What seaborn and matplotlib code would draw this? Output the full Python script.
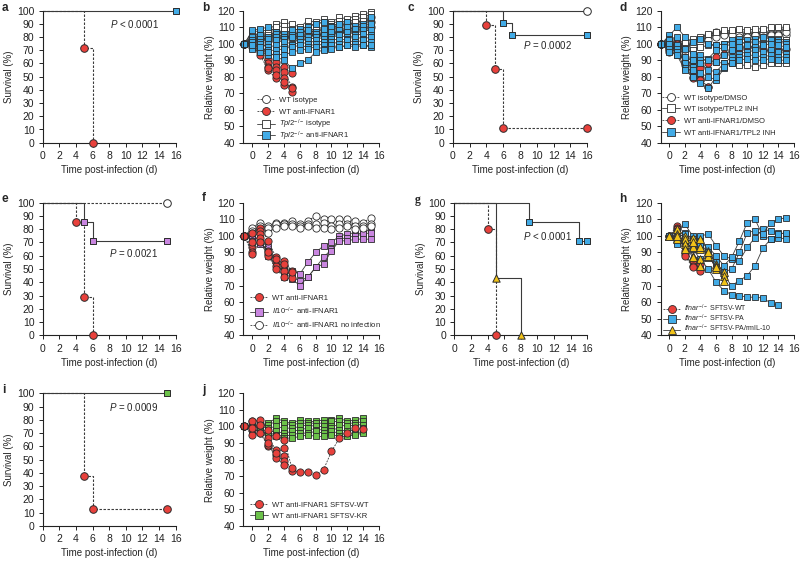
import numpy as np
import pandas as pd
import matplotlib
matplotlib.use('Agg')
import matplotlib.pyplot as plt
from matplotlib.lines import Line2D
import seaborn as sns

sns.set_theme(style='ticks')
plt.rcParams['font.family'] = ['Liberation Sans', 'DejaVu Sans']
plt.rcParams['mathtext.fontset'] = 'custom'
plt.rcParams['mathtext.rm'] = 'Liberation Sans'
plt.rcParams['mathtext.it'] = 'Liberation Sans:italic'
plt.rcParams['mathtext.bf'] = 'Liberation Sans:bold'
plt.rcParams['axes.linewidth'] = 0.8
plt.rcParams['axes.edgecolor'] = '#222222'
for a in ('xtick', 'ytick'):
    plt.rcParams[f'{a}.major.size'] = 3
    plt.rcParams[f'{a}.major.width'] = 0.7
    plt.rcParams[f'{a}.major.pad'] = 3
    plt.rcParams[f'{a}.color'] = '#222222'
    plt.rcParams[f'{a}.labelsize'] = 7.5

RED = '#e8413c'
BLUE = '#42abe6'
PURPLE = '#c986e0'
YELLOW = '#f2c318'
GREEN = '#6cc24a'
WHITE = '#ffffff'
EDGE = '#2b2b2b'
LINE = '#3a3a3a'
DASH = (0, (2.2, 1.4))

# ---------------- survival data ----------------
a_red_t = [0, 5, 6];          a_red_s = [100, 71.4, 0]
a_blue_t = [0, 16];           a_blue_s = [100, 100]

c_open_t = [0, 16];           c_open_s = [100, 100]
c_red_t = [0, 4, 5, 6, 16];   c_red_s = [100, 88.9, 55.6, 11.1, 11.1]
c_blue_t = [0, 6, 7, 16];     c_blue_s = [100, 90.9, 81.8, 81.8]

e_open_t = [0, 15];           e_open_s = [100, 100]
e_purple_t = [0, 5, 6, 15];   e_purple_s = [100, 85.7, 71.4, 71.4]
e_red_t = [0, 4, 5, 6];       e_red_s = [100, 85.7, 28.6, 0]

g_red_t = [0, 4, 5];          g_red_s = [100, 80, 0]
g_yellow_t = [0, 5, 8];       g_yellow_s = [100, 42.9, 0]
g_blue_t = [0, 9, 15, 16];    g_blue_s = [100, 85.7, 71.4, 71.4]

i_red_t = [0, 5, 6, 15];      i_red_s = [100, 37.5, 12.5, 12.5]
i_green_t = [0, 15];          i_green_s = [100, 100]

p_texts = {'a': 'P < 0.0001', 'c': 'P = 0.0002', 'e': 'P = 0.0021',
           'g': 'P < 0.0001', 'i': 'P = 0.0009'}

# ---------------- weight data ----------------
days_b = list(range(-1, 16))
b_wt_iso = [
    [100, 104, 106, 105, 107, 107, 106, 107, 108, 107, 109, 110, 111, 112, 113, 114, 116],
    [100, 102, 104, 103, 105, 104, 105, 104, 106, 105, 106, 107, 108, 108, 110, 111, 113],
    [100, 101, 103, 102, 104, 103, 104, 103, 105, 106, 105, 106, 107, 107, 108, 109, 110],
]
b_wt_anti = [
    [100, 102, 99, 91, 89, 86, 82],
    [100, 100, 97, 88, 86, 83, 74],
    [100, 99, 95, 86, 84, 79, 71],
    [100, 98, 93, 84, 79, 75],
    [100, 101, 96, 85, 81, 77, 73],
]
b_tpl2_iso = [
    [100, 107, 108, 108, 112, 113, 112, 110, 114, 113, 115, 113, 116, 115, 117, 118, 119],
    [100, 105, 106, 107, 110, 111, 109, 108, 111, 112, 113, 112, 114, 113, 115, 116, 118],
    [100, 103, 104, 105, 107, 108, 107, 106, 108, 109, 110, 111, 112, 111, 113, 114, 115],
]
b_tpl2_anti = [
    [100, 108, 109, 110, 107, 106, 108, 109, 110, 112, 113, 111, 112, 113, 111, 112, 116],
    [100, 104, 105, 104, 106, 104, 105, 107, 108, 107, 109, 110, 108, 110, 109, 111, 112],
    [100, 102, 103, 103, 104, 103, 104, 105, 104, 106, 105, 107, 106, 107, 106, 108, 108],
    [100, 101, 101, 100, 102, 101, 100, 103, 102, 104, 103, 104, 105, 104, 105, 106, 105],
    [100, 99, 100, 98, 99, 98, 99, 101, 100, 102, 101, 103, 102, 103, 104, 103, 104],
    [100, 98, 97, 96, 96, 97, 98, 99, 98, 100, 99, 101, 100, 102, 101, 102, 101],
    [100, 97, 95, 93, 94, 93, 95, 96, 97, 98, 97, 99, 98, 99, 100, 99, 98],
    [100, 99, 98, 95, 92, 90, 85, 88, 90, 95, 96, 97, 98, 99, 98, 99, 99],
]

days_d = list(range(-1, 16))
d_iso_dmso = [
    [100, 102, 100, 99, 101, 103, 105, 107, 107, 107, 107, 106, 107, 107, 107, 108, 109],
    [100, 101, 98, 98, 100, 102, 104, 106, 106, 106, 106, 105, 106, 106, 106, 106, 105],
    [100, 99, 97, 97, 99, 101, 102, 104, 105, 105, 104, 104, 105, 104, 105, 105, 107],
]
d_iso_inh = [
    [100, 104, 102, 101, 103, 104, 106, 107, 108, 108, 109, 108, 109, 109, 110, 110, 110],
    [100, 98, 96, 95, 96, 98, 99, 99, 100, 101, 100, 101, 102, 101, 102, 103, 102],
    [100, 96, 93, 91, 90, 91, 90, 89, 88, 88, 87, 87, 86, 87, 88, 88, 88],
]
d_anti_dmso = [
    [100, 97, 101, 92, 86, 85, 88, 92, 94, 96, 97, 98, 98, 97, 95.5, 96, 96.5],
    [100, 95, 99, 87, 82, 78, 74],
    [100, 96, 98, 89, 80, 79],
    [100, 98, 100, 88, 79, 78, 73.5],
]
d_anti_inh = [
    [100, 105, 110, 104, 101, 103, 100, 99, 100, 102, 103, 102, 103, 104, 103, 102, 101],
    [100, 103, 104, 97, 94, 93, 91, 96, 98, 100, 101, 100, 101, 100, 102, 101, 100],
    [100, 102, 99, 92, 90, 90, 90, 89, 93, 96, 98, 99, 98, 99, 100, 99, 98],
    [100, 100, 97, 88, 86, 88, 84, 83, 88, 92, 94, 95, 96, 95, 96, 95, 94],
    [100, 97, 95, 85, 84, 82, 80, 78, 85, 90, 92, 93, 93, 92, 93, 92, 92],
    [100, 95, 93, 84, 80, 76, 73, 80, 86, 88, 90, 91, 90, 90, 91, 90, 90],
]

days_f = list(range(-1, 16))
f_wt_anti = [
    [100, 102, 105, 97, 87, 85, 79],
    [100, 93, 103, 91, 84, 82, 74.5],
    [100, 90, 101, 89, 82, 79],
    [100, 89, 99, 88, 80, 75],
    [100, 96, 96, 90, 86, 83, 78],
]
f_il10_anti = [
    [100, 103, 99, 93, 86, 80, 79, 77, 84, 90, 94, 96, 100, 101, 102, 101, 105],
    [100, 100, 97, 90, 84, 77, 75, 73, 75, 81, 87, 92, 98, 99, 100, 101, 102],
    [100, 98, 96, 88, 82, 75, 74, 70, 75, 81, 83, 91, 97, 97, 98, 98, 98],
    [100, 97, 95, 91, 85, 76, 78],
]
f_il10_noinf = [
    [100, 105, 108, 106, 108, 108, 109, 107, 109, 112, 110, 110, 110, 110, 109, 108, 111],
    [100, 103, 106, 105, 107, 107, 107, 106, 107, 107, 108, 106, 107, 107, 106, 106, 107],
    [100, 102, 104, 102, 105, 106, 106, 105, 106, 105, 105, 104, 105, 106, 104, 105, 106],
]

days_h = list(range(0, 16))
h_wt = [
    [100, 106, 91, 85, 83],
    [100, 105, 89, 82, 80],
    [100, 104, 88, 81, 79],
]
h_pa = [
    [100, 97, 96, 92, 86, 80, 72, 67, 64.5, 64, 63, 63, 62.5, 59.5, 58],
    [100, 103, 107, 100, 100, 101, 94, 88, 86, 85, 93, 99, 104, 103, 102, 101],
    [100, 98, 102, 98, 97, 93, 88, 82, 87, 97, 108, 110, 100, 98, 99, 98],
    [100, 95, 99, 96, 93, 88, 81, 76, 70, 73, 76, 82, 92.5, 98, 101, 102],
    [100, 99, 101, 97, 95, 90, 84, 78, 80, 90, 102, 103, 101, 108, 110, 111],
]
h_pa_il10 = [
    [100, 104, 100, 99, 98, 91, 83, 78],
    [100, 101, 96, 93, 92, 89, 80, 76],
    [100, 99, 98, 88, 86, 87, 82, 73],
    [100, 98, 95, 87, 82, 88, 81],
    [100, 100, 92, 96, 93, 90],
]

days_j = list(range(-1, 15))
j_wt = [
    [100, 98, 101, 93, 86, 82, 73, 72.5, 72.5, 70.5, 74, 85, 93, 96, 99, 98.5],
    [100, 103, 104, 98, 94, 92, 75],
    [100, 95, 96, 88, 83, 79],
    [100, 103, 96, 89, 81, 77],
    [100, 99, 101, 90, 84, 87],
]
j_kr = [
    [100, 101, 102, 102, 105, 103, 102, 104, 103, 103, 104, 104, 105, 103, 104, 105],
    [100, 100, 101, 101, 103, 102, 101, 102, 102, 102, 102, 103, 103, 102, 102, 103],
    [100, 99, 100, 99, 100, 99, 99, 100, 101, 100, 100, 100, 101, 100, 101, 101],
    [100, 99, 98, 97, 97, 96, 97, 98, 99, 98, 98, 99, 98, 97, 98, 99],
    [100, 98, 97, 96, 95, 94, 95, 96, 96, 97, 96, 97, 96, 95, 96, 97],
    [100, 98, 97, 95, 94, 93, 93, 94, 95, 94, 94, 95, 94, 94, 95, 96],
]

# ---------------- figure ----------------
W, H = 800, 561
fig = plt.figure(figsize=(W / 100, H / 100), dpi=100)


def px_axes(left, right, top, bottom):
    return fig.add_axes([left / W, 1 - bottom / H, (right - left) / W, (bottom - top) / H])


def style_axes(ax, xlim, ylim, yticks, ylabel):
    ax.set_xlim(*xlim)
    ax.set_ylim(*ylim)
    ax.set_xticks(range(0, 17, 2))
    ax.set_yticks(yticks)
    ax.spines['top'].set_visible(False)
    ax.spines['right'].set_visible(False)
    ax.spines['bottom'].set_bounds(xlim[0], 16)
    ax.set_xlabel('Time post-infection (d)', fontsize=7, labelpad=3)
    ax.set_ylabel(ylabel, fontsize=7, labelpad=2)
    ax.tick_params(axis='both', which='major', direction='out', pad=3)


def long_df(days, mice):
    rows = []
    for m, vals in enumerate(mice):
        for d, v in zip(days, vals):
            rows.append((m, d, v))
    return pd.DataFrame(rows, columns=['mouse', 'day', 'weight'])


def survival_panel(ax, groups, ptxt, pxy):
    for t, s, ls, mk, fc, ms in groups:
        df = pd.DataFrame({'t': t, 's': s})
        sns.lineplot(data=df, x='t', y='s', estimator=None, drawstyle='steps-post',
                     color=LINE, lw=0.8, linestyle=ls, ax=ax, legend=False,
                     clip_on=False, zorder=2)
        sns.scatterplot(x=t[1:], y=s[1:], marker=mk, s=ms, color=fc, edgecolor=EDGE,
                        linewidth=0.7, ax=ax, legend=False, clip_on=False, zorder=3)
    style_axes(ax, (0, 16), (0, 100), range(0, 101, 10), 'Survival (%)')
    ax.text(pxy[0], pxy[1], ptxt.replace('P', '$P$', 1), fontsize=7, va='center', ha='left')


def weight_panel(ax, days, groups, xlim, order, leg_x, leg_rows, leg_fs=5.5):
    for mice, ls, mk, fc, ms, lab in groups:
        df = long_df(days, mice)
        sns.lineplot(data=df, x='day', y='weight', units='mouse', estimator=None,
                     color=LINE, lw=0.6, linestyle=ls, marker=mk, markersize=ms,
                     markerfacecolor=fc, markeredgecolor=EDGE, markeredgewidth=0.6,
                     ax=ax, legend=False, clip_on=False)
    style_axes(ax, xlim, (40, 120), range(40, 121, 10), 'Relative weight (%)')
    # one single-row legend per entry, evenly spaced like the original key
    for idx, yrow in zip(order, leg_rows):
        mice, ls, mk, fc, ms, lab = groups[idx]
        h = Line2D([], [], color=LINE, lw=0.6, linestyle=ls, marker=mk,
                   markersize=ms + 0.5, markerfacecolor=fc,
                   markeredgecolor=EDGE, markeredgewidth=0.6)
        leg = ax.legend([h], [lab], loc='center left', bbox_to_anchor=(leg_x, yrow),
                        frameon=False, borderpad=0, borderaxespad=0,
                        handletextpad=0.5, handlelength=2.4, fontsize=leg_fs)
        ax.add_artist(leg)
    ax.legend_ = None   # avoid drawing the last row twice


MS_C = 5.2   # circle marker size (pt)
MS_S = 4.8   # square marker size (pt)
MS_T = 5.4   # triangle

# rows / columns in pixels
R1 = (10.7, 142.7)
R2 = (202.7, 335.3)
R3 = (393.3, 526.0)

# a
ax = px_axes(42.7, 175.7, *R1)
survival_panel(ax, [
    (a_red_t, a_red_s, DASH, 'o', RED, 30),
    (a_blue_t, a_blue_s, '-', 's', BLUE, 20),
], p_texts['a'], (8.1, 90))

# b
ax = px_axes(243.3, 379.0, *R1)
weight_panel(ax, days_b, [
    (b_wt_iso, DASH, 'o', WHITE, MS_C, 'WT isotype'),
    (b_wt_anti, DASH, 'o', RED, MS_C, 'WT anti-IFNAR1'),
    (b_tpl2_iso, '-', 's', WHITE, MS_S, r'$\mathit{Tpl2}^{-/-}$ isotype'),
    (b_tpl2_anti, '-', 's', BLUE, MS_S, r'$\mathit{Tpl2}^{-/-}$ anti-IFNAR1'),
], (-1.14, 16), [0, 1, 2, 3], 0.10, [0.323, 0.232, 0.141, 0.051])

# c
ax = px_axes(452.7, 587.3, *R1)
survival_panel(ax, [
    (c_red_t, c_red_s, DASH, 'o', RED, 30),
    (c_blue_t, c_blue_s, '-', 's', BLUE, 20),
    (c_open_t, c_open_s, '-', 'o', WHITE, 30),
], p_texts['c'], (8.4, 74))

# d
ax = px_axes(660.7, 794.0, *R1)
weight_panel(ax, days_d, [
    (d_iso_dmso, DASH, 'o', WHITE, MS_C, 'WT isotype/DMSO'),
    (d_iso_inh, '-', 's', WHITE, MS_S, 'WT isotype/TPL2 INH'),
    (d_anti_dmso, DASH, 'o', RED, MS_C, 'WT anti-IFNAR1/DMSO'),
    (d_anti_inh, '-', 's', BLUE, MS_S, 'WT anti-IFNAR1/TPL2 INH'),
], (-1.1, 16), [0, 1, 2, 3], 0.01, [0.339, 0.252, 0.165, 0.073])

# e
ax = px_axes(42.7, 175.7, *R2)
survival_panel(ax, [
    (e_open_t, e_open_s, DASH, 'o', WHITE, 30),
    (e_purple_t, e_purple_s, '-', 's', PURPLE, 20),
    (e_red_t, e_red_s, DASH, 'o', RED, 30),
], p_texts['e'], (8.0, 62))

# f
ax = px_axes(243.3, 379.0, *R2)
weight_panel(ax, days_f, [
    (f_il10_anti, '-', 's', PURPLE, MS_S, r'$\mathit{Il10}^{-/-}$ anti-IFNAR1'),
    (f_il10_noinf, DASH, 'o', WHITE, MS_C, r'$\mathit{Il10}^{-/-}$ anti-IFNAR1 no infection'),
    (f_wt_anti, DASH, 'o', RED, MS_C, 'WT anti-IFNAR1'),
], (-1.14, 16), [2, 0, 1], 0.05, [0.281, 0.183, 0.078])

# g
ax = px_axes(454.3, 587.3, *R2)
survival_panel(ax, [
    (g_red_t, g_red_s, DASH, 'o', RED, 30),
    (g_yellow_t, g_yellow_s, '-', '^', YELLOW, 28),
    (g_blue_t, g_blue_s, '-', 's', BLUE, 20),
], p_texts['g'], (8.3, 75))

# h
ax = px_axes(660.7, 794.0, *R2)
weight_panel(ax, days_h, [
    (h_wt, DASH, 'o', RED, MS_C, r'$\mathit{Ifnar}^{-/-}$ SFTSV-WT'),
    (h_pa, '-', 's', BLUE, MS_S, r'$\mathit{Ifnar}^{-/-}$ SFTSV-PA'),
    (h_pa_il10, '-', '^', YELLOW, MS_T, r'$\mathit{Ifnar}^{-/-}$ SFTSV-PA/rmIL-10'),
], (-1.1, 16), [0, 1, 2], 0.02, [0.203, 0.126, 0.049], leg_fs=5.0)

# i
ax = px_axes(42.7, 175.7, *R3)
survival_panel(ax, [
    (i_red_t, i_red_s, DASH, 'o', RED, 30),
    (i_green_t, i_green_s, '-', 's', GREEN, 20),
], p_texts['i'], (8.0, 90))

# j
ax = px_axes(243.3, 379.0, *R3)
weight_panel(ax, days_j, [
    (j_kr, '-', 's', GREEN, MS_S, 'WT anti-IFNAR1 SFTSV-KR'),
    (j_wt, DASH, 'o', RED, MS_C, 'WT anti-IFNAR1 SFTSV-WT'),
], (-1.14, 16), [1, 0], 0.05, [0.158, 0.075])

# panel letters
letters = [('a', 2, 2), ('b', 202, 2), ('c', 408, 2), ('d', 619, 2),
           ('e', 2, 193), ('f', 202, 192), ('g', 415, 194), ('h', 619, 193),
           ('i', 2, 384), ('j', 202, 384)]
for lt, x, y in letters:
    kw = dict(fontsize=8.5, fontweight='bold', va='top', ha='left')
    if lt == 'g':
        kw['family'] = ['Liberation Serif']
    fig.text(x / W, 1 - y / H, lt, **kw)

fig.savefig('out.png', dpi=100)
